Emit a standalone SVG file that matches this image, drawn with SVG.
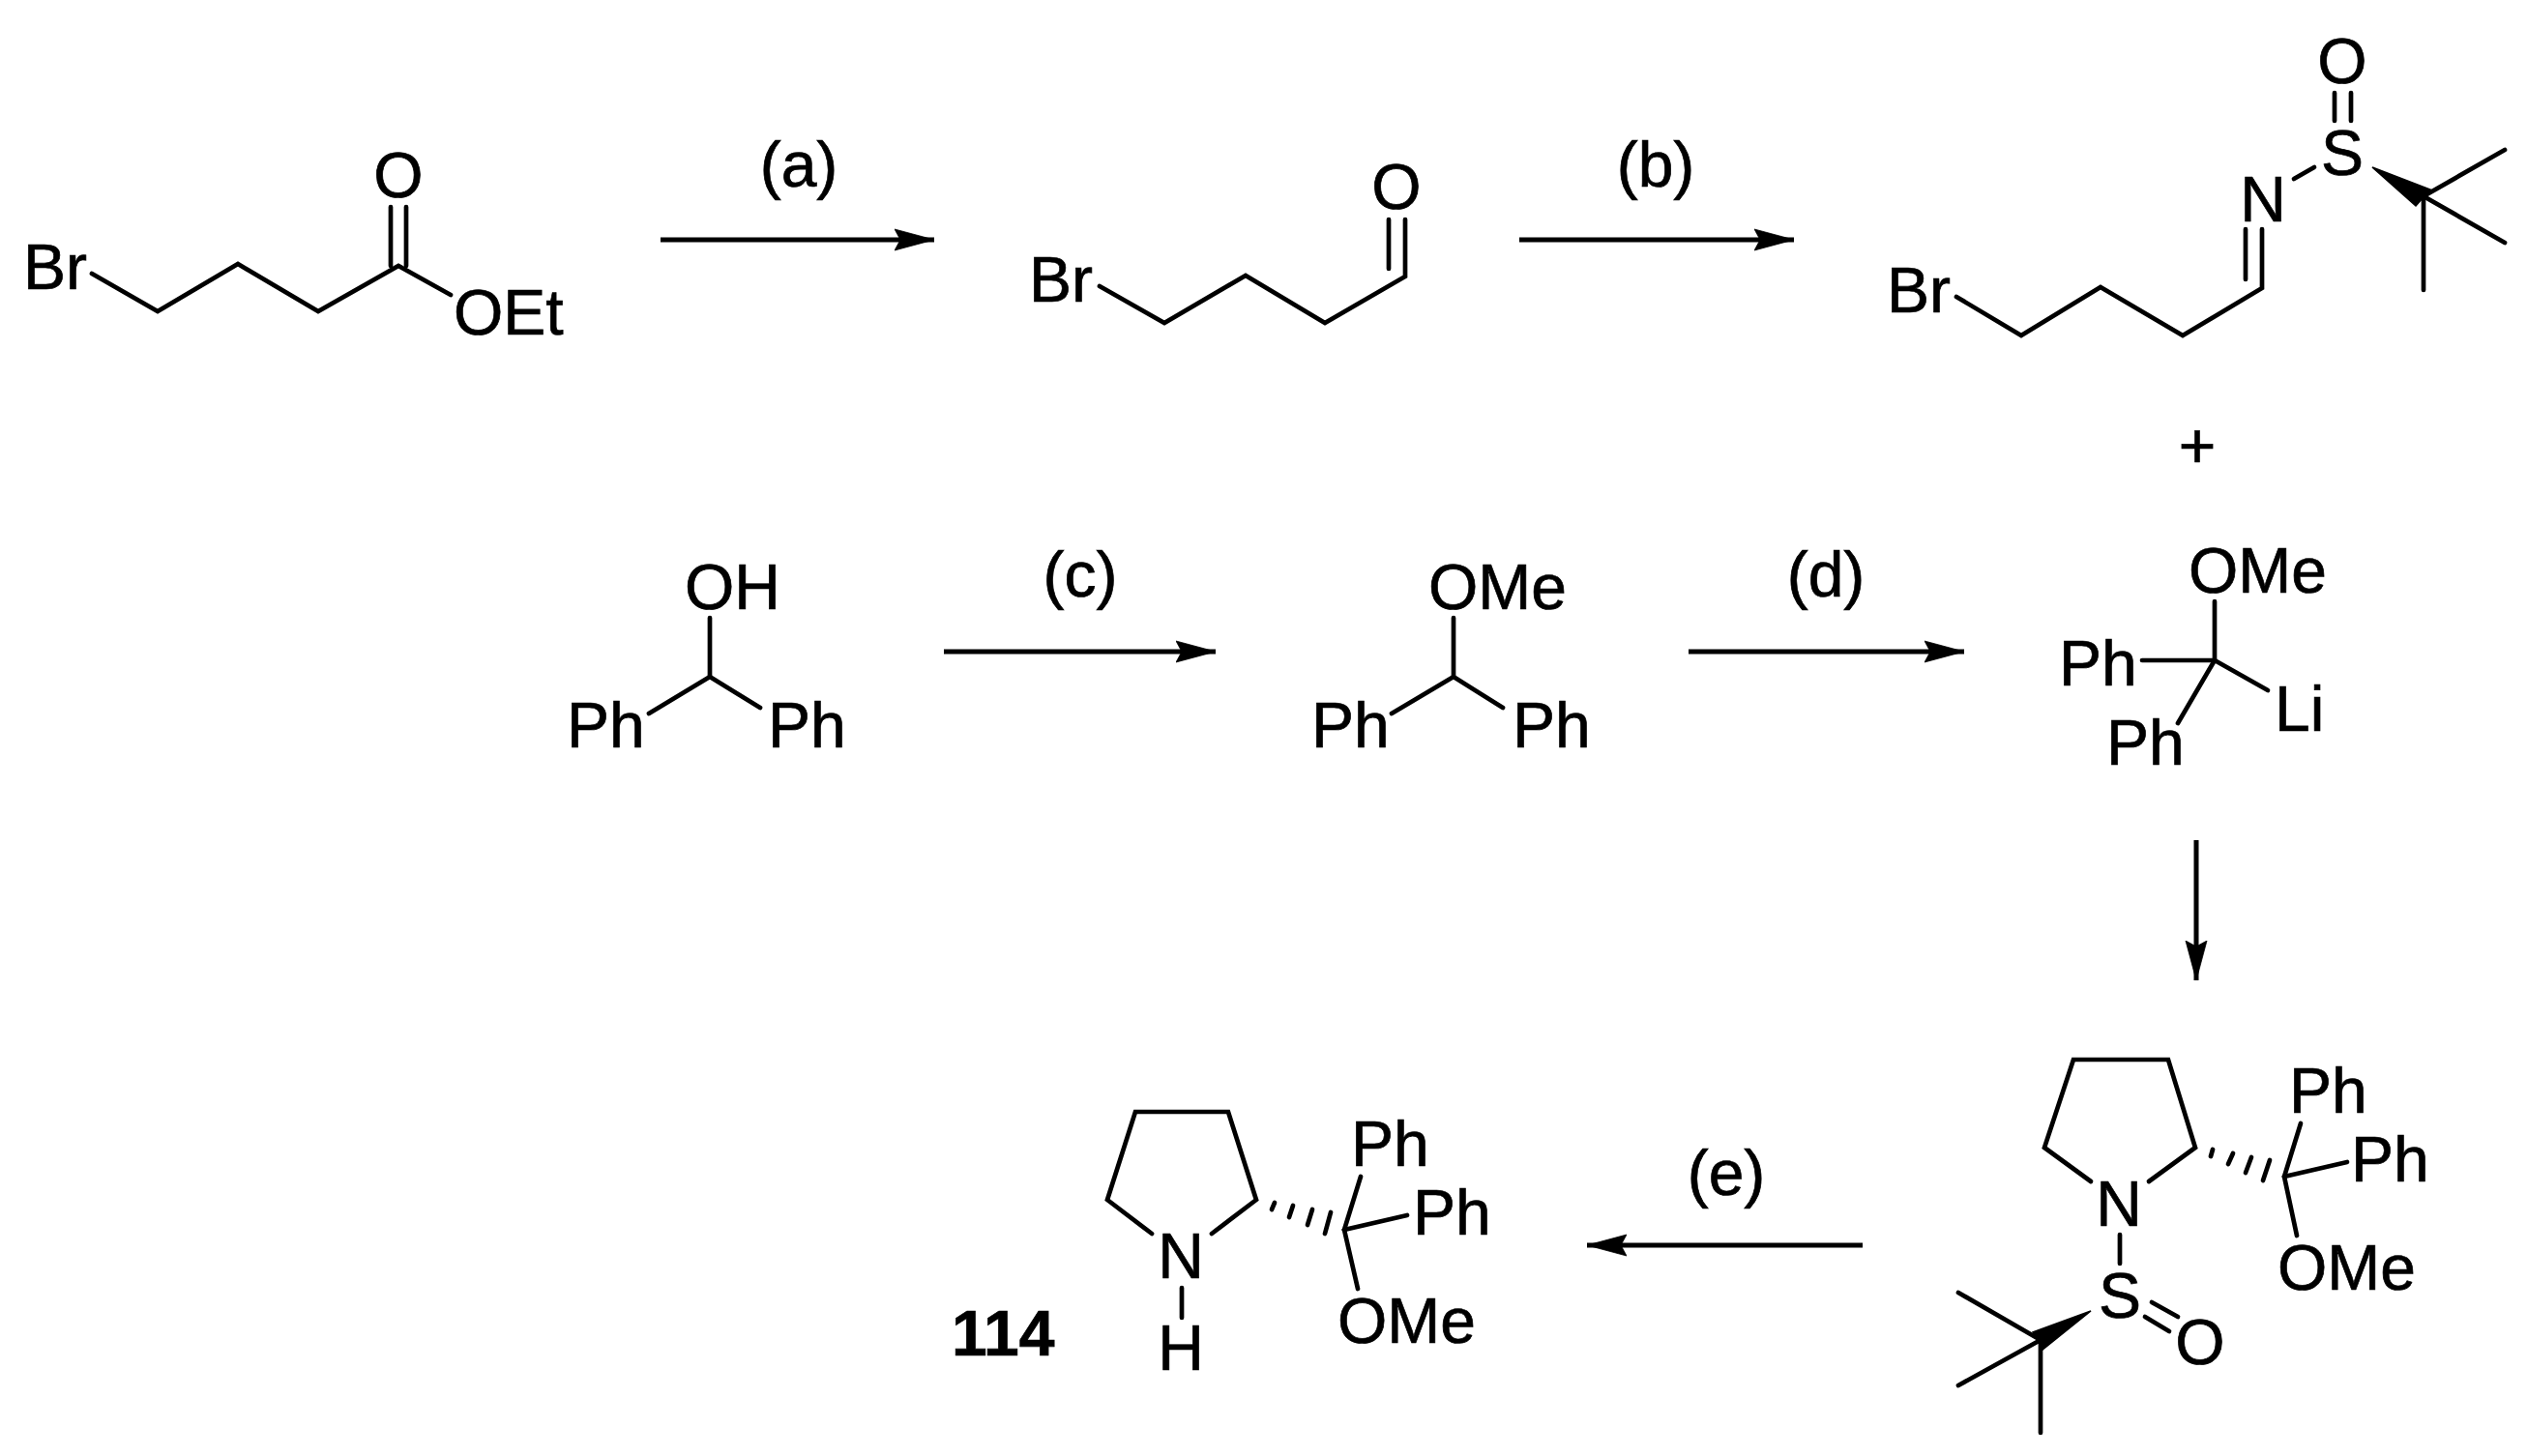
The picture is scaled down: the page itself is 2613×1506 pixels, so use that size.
<svg xmlns="http://www.w3.org/2000/svg" width="2613" height="1506" viewBox="0 0 2613 1506">
<style>
text{font-family:"Liberation Sans",Arial,sans-serif;font-size:66px;fill:#000;stroke:#000;stroke-width:.7}
.b{font-weight:bold}
.m{text-anchor:middle}
.bond{fill:none;stroke:#000;stroke-width:4.7;stroke-linejoin:miter;stroke-linecap:round}
.hash{fill:none;stroke:#000;stroke-width:4.7;stroke-linecap:round}
.wedge{fill:#000;stroke:#000;stroke-width:1.5}
.arrow{fill:none;stroke:#000;stroke-width:5;marker-end:url(#head)}
</style>
<defs>
<marker id="head" markerUnits="userSpaceOnUse" markerWidth="46" markerHeight="26" refX="41" refY="13" orient="auto" viewBox="0 0 46 26"><path d="M41,13 L0,2 L6,13 L0,24 Z" fill="#000" stroke="#000" stroke-width=".8"/></marker>
</defs>
<rect width="2613" height="1506" fill="#fff"/>
<g id="connectors">
<line class="arrow" x1="683" y1="248" x2="966" y2="248"/>
<line class="arrow" x1="1571" y1="248" x2="1855" y2="248"/>
<line class="arrow" x1="976" y1="674" x2="1257" y2="674"/>
<line class="arrow" x1="1746" y1="674" x2="2031" y2="674"/>
<line class="arrow" x1="2271" y1="869" x2="2271" y2="1014"/>
<line class="arrow" x1="1926" y1="1288" x2="1641" y2="1288"/>
</g>
<g id="label-a"><text class="m" x="826" y="193">(a)</text></g>
<g id="label-b"><text class="m" x="1712" y="193">(b)</text></g>
<g id="label-c"><text class="m" x="1117" y="617">(c)</text></g>
<g id="label-d"><text class="m" x="1888" y="617">(d)</text></g>
<g id="label-e"><text class="m" x="1785" y="1236">(e)</text></g>
<g id="ester">
<polyline class="bond" points="95,283 163,322 246,273 329,322 412,275 466,305"/>
<line class="bond" x1="404" y1="214" x2="404" y2="275"/>
<line class="bond" x1="420" y1="214" x2="420" y2="275"/>
<text x="24" y="299">Br</text>
<text class="m" x="412" y="204">O</text>
<text x="469" y="346">OEt</text>
</g>
<g id="aldehyde">
<polyline class="bond" points="1137,296 1204,334 1288,285 1370,334 1453,286 1453,227"/>
<line class="bond" x1="1436" y1="227" x2="1436" y2="278"/>
<text x="1064" y="312">Br</text>
<text class="m" x="1444" y="216">O</text>
</g>
<g id="sulfinimine">
<polyline class="bond" points="2023,307 2090,347 2172,297 2257,347 2339,298 2339,237"/>
<line class="bond" x1="2322" y1="237" x2="2322" y2="289"/>
<line class="bond" x1="2372" y1="185" x2="2393" y2="173"/>
<line class="bond" x1="2414" y1="96" x2="2414" y2="125"/>
<line class="bond" x1="2431" y1="96" x2="2431" y2="125"/>
<path class="wedge" d="M2453,173 L2513,196 L2498,213 Z"/>
<line class="bond" x1="2506" y1="203" x2="2590" y2="155"/>
<line class="bond" x1="2506" y1="203" x2="2590" y2="251"/>
<line class="bond" x1="2506" y1="203" x2="2506" y2="300"/>
<text x="1951" y="323">Br</text>
<text class="m" x="2340" y="229">N</text>
<text class="m" x="2422" y="181">S</text>
<text class="m" x="2422" y="86">O</text>
</g>
<g id="plus"><text class="m" x="2272" y="484">+</text></g>
<g id="benzhydrol">
<line class="bond" x1="734" y1="639" x2="734" y2="700"/>
<polyline class="bond" points="671,738 734,700 786,732"/>
<text x="708" y="630">OH</text>
<text x="586" y="773">Ph</text>
<text x="794" y="773">Ph</text>
</g>
<g id="methyl-ether">
<line class="bond" x1="1503" y1="639" x2="1503" y2="700"/>
<polyline class="bond" points="1439,738 1503,700 1554,732"/>
<text x="1477" y="630">OMe</text>
<text x="1356" y="773">Ph</text>
<text x="1564" y="773">Ph</text>
</g>
<g id="organolithium">
<line class="bond" x1="2290" y1="622" x2="2290" y2="683"/>
<line class="bond" x1="2215" y1="683" x2="2290" y2="683"/>
<line class="bond" x1="2290" y1="683" x2="2345" y2="714"/>
<line class="bond" x1="2290" y1="683" x2="2252" y2="748"/>
<text x="2263" y="613">OMe</text>
<text x="2129" y="709">Ph</text>
<text x="2178" y="791">Ph</text>
<text x="2352" y="756">Li</text>
</g>
<g id="sulfinyl-pyrrolidine">
<polyline class="bond" points="2162,1222 2114,1187 2144,1096 2242,1096 2270,1187 2222,1222"/>
<line class="hash" x1="2288" y1="1189" x2="2286" y2="1196"/>
<line class="hash" x1="2309" y1="1193" x2="2304" y2="1204"/>
<line class="hash" x1="2328" y1="1197" x2="2322" y2="1213"/>
<line class="hash" x1="2347" y1="1200" x2="2340" y2="1221"/>
<line class="bond" x1="2362" y1="1217" x2="2379" y2="1162"/>
<line class="bond" x1="2362" y1="1217" x2="2427" y2="1202"/>
<line class="bond" x1="2362" y1="1217" x2="2375" y2="1278"/>
<line class="bond" x1="2192" y1="1277" x2="2192" y2="1307"/>
<line class="bond" x1="2225" y1="1347" x2="2252" y2="1362"/>
<line class="bond" x1="2218" y1="1362" x2="2243" y2="1377"/>
<path class="wedge" d="M2162,1356 L2102,1378 L2112,1396 Z"/>
<line class="bond" x1="2110" y1="1386" x2="2025" y2="1337"/>
<line class="bond" x1="2110" y1="1386" x2="2025" y2="1433"/>
<line class="bond" x1="2110" y1="1386" x2="2110" y2="1482"/>
<text class="m" x="2191" y="1268">N</text>
<text class="m" x="2192" y="1363">S</text>
<text class="m" x="2275" y="1411">O</text>
<text x="2367" y="1151">Ph</text>
<text x="2431" y="1222">Ph</text>
<text x="2355" y="1334">OMe</text>
</g>
<g id="compound-114">
<polyline class="bond" points="1191,1276 1145,1241 1174,1150 1270,1150 1299,1241 1253,1276"/>
<line class="hash" x1="1318" y1="1244" x2="1315" y2="1251"/>
<line class="hash" x1="1337" y1="1247" x2="1333" y2="1259"/>
<line class="hash" x1="1357" y1="1251" x2="1352" y2="1267"/>
<line class="hash" x1="1376" y1="1254" x2="1370" y2="1276"/>
<line class="bond" x1="1390" y1="1272" x2="1407" y2="1217"/>
<line class="bond" x1="1390" y1="1272" x2="1455" y2="1257"/>
<line class="bond" x1="1390" y1="1272" x2="1404" y2="1333"/>
<line class="bond" x1="1222" y1="1332" x2="1222" y2="1363"/>
<text class="m" x="1221" y="1322">N</text>
<text class="m" x="1221" y="1417">H</text>
<text class="b" x="984" y="1402">114</text>
<text x="1397" y="1206">Ph</text>
<text x="1461" y="1277">Ph</text>
<text x="1383" y="1389">OMe</text>
</g>
</svg>
